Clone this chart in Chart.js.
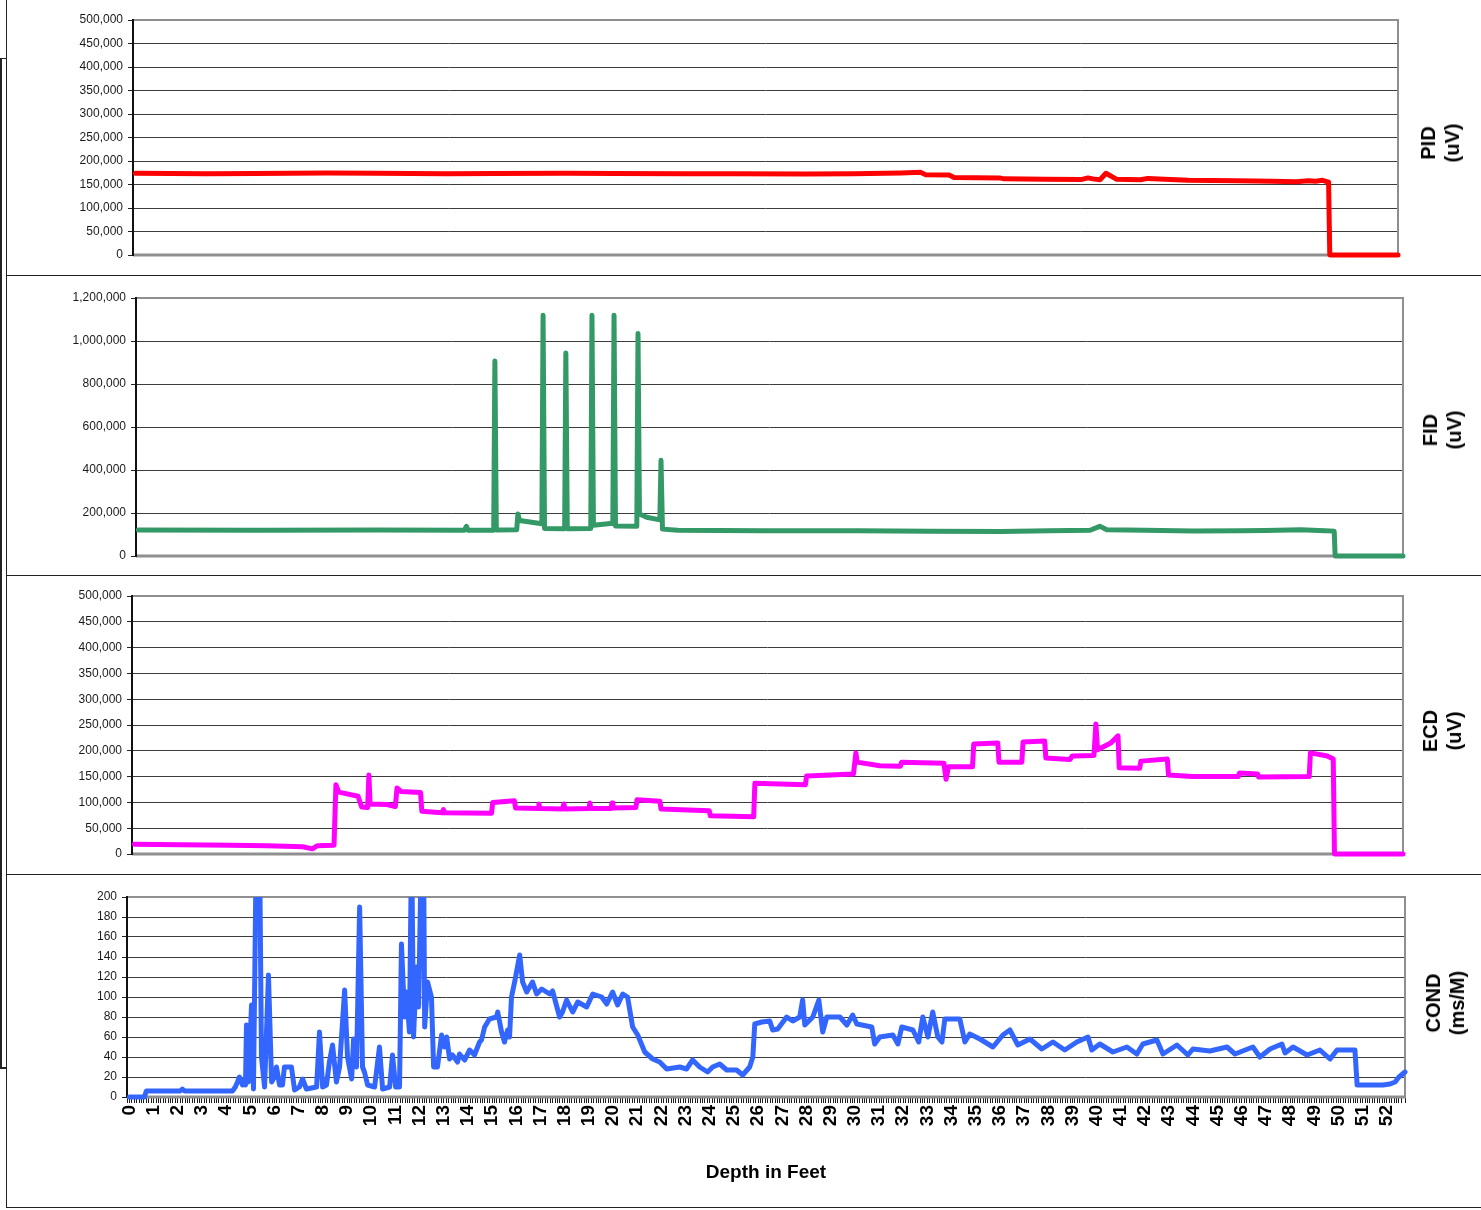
<!DOCTYPE html>
<html>
<head>
<meta charset="utf-8">
<script src="https://cdn.jsdelivr.net/npm/chart.js@4/dist/chart.umd.min.js"></script>
<style>
  body { margin: 0; background: #fff; }
  #page { position: relative; width: 1481px; height: 1210px; overflow: hidden; }
  .panel { position: absolute; left: 0; width: 1481px; }
  .rule { position: absolute; background: #222; }
  .side {
    position: absolute; transform: translate(-50%, -50%) rotate(-90deg);
    font: bold 20px Arial, "Liberation Sans", sans-serif; line-height: 24px;
    text-align: center; white-space: nowrap; color: #000;
  }
</style>
</head>
<body>
<div id="page">
  <div class="panel" style="top:0;height:275px"><canvas id="pid"></canvas></div>
  <div class="panel" style="top:275px;height:301px"><canvas id="fid"></canvas></div>
  <div class="panel" style="top:576px;height:298px"><canvas id="ecd"></canvas></div>
  <div class="panel" style="top:874px;height:333px"><canvas id="cond"></canvas></div>

  <div class="rule" style="left:6px;top:0;width:1px;height:1208px"></div>
  <div class="rule" style="left:6px;top:275px;width:1475px;height:1px"></div>
  <div class="rule" style="left:6px;top:575px;width:1475px;height:1px"></div>
  <div class="rule" style="left:6px;top:874px;width:1475px;height:1px"></div>
  <div class="rule" style="left:6px;top:1207px;width:1475px;height:1px"></div>
  <div class="rule" style="left:0;top:58px;width:2px;height:1011px"></div>
  <div class="rule" style="left:0;top:58px;width:6px;height:1px"></div>
  <div class="rule" style="left:0;top:1067px;width:6px;height:2px"></div>

  <div class="side" style="left:1440px;top:143px">PID<br>(uV)</div>
  <div class="side" style="left:1442px;top:430px">FID<br>(uV)</div>
  <div class="side" style="left:1442px;top:731px">ECD<br>(uV)</div>
  <div class="side" style="left:1445px;top:1003px">COND<br>(ms/M)</div>
</div>
<script>
// depth in feet
const depthMin = -0.1;
const depthMax = 52.75;

const pidDepth = [0, 3, 5, 8, 10, 13, 15, 18, 20, 23, 25, 28, 30, 32, 32.8, 33.0, 34.0, 34.2, 36.1, 36.3, 38, 39.5, 39.8, 40.0, 40.3, 40.55, 41.0, 42, 42.3, 43, 44, 46, 47.5, 48.5, 49, 49.3, 49.6, 49.85, 49.9, 52.75];
const pidValue = [174000, 173000, 173500, 174500, 174000, 173000, 173500, 174000, 173500, 173000, 173000, 172500, 173000, 174500, 176000, 171000, 170000, 165000, 164000, 162000, 161000, 160500, 164000, 162000, 160000, 174000, 161000, 160000, 163000, 161000, 159000, 158000, 157000, 156000, 158000, 157000, 159000, 155000, 0, 0];

const fidDepth = [0, 5, 10, 13.6, 13.68, 13.75, 14.82, 14.87, 14.93, 15.78, 15.83, 15.9, 16.83, 16.88, 16.94, 17.78, 17.83, 17.89, 18.87, 18.92, 18.98, 19.79, 19.84, 19.9, 20.79, 20.84, 20.9, 21.2, 21.75, 21.8, 21.86, 22.5, 26, 30, 33, 36, 38, 39.7, 40.1, 40.4, 42, 44, 46, 47, 48.5, 49.5, 49.88, 49.92, 52.75];
const fidValue = [121000, 120000, 121000, 120000, 138000, 120000, 120000, 907000, 121000, 122000, 195000, 165000, 150000, 1120000, 128000, 127000, 944000, 127000, 128000, 1120000, 143000, 152000, 1120000, 140000, 138000, 1035000, 195000, 180000, 168000, 445000, 125000, 120000, 118000, 117000, 115000, 114000, 117000, 120000, 138000, 122000, 120000, 116000, 117000, 119000, 122000, 118000, 115000, 0, 0];

const ecdDepth = [0, 2, 4, 5.5, 7, 7.4, 7.6, 8.3, 8.38, 8.5, 9.3, 9.45, 9.7, 9.75, 9.8, 10.5, 10.85, 10.92, 11.1, 11.9, 11.95, 12.8, 12.85, 12.9, 14.85, 14.9, 15.8, 15.85, 16.8, 16.82, 16.86, 17.8, 17.86, 17.9, 18.9, 18.94, 18.98, 19.82, 19.86, 19.9, 20.85, 20.9, 21.85, 21.9, 23.9, 23.95, 25.75, 25.8, 27.9, 27.95, 29.9, 30.0, 30.05, 31.0, 31.85, 31.9, 33.66, 33.75, 33.85, 34.85, 34.9, 35.9, 35.95, 36.9, 36.95, 37.85, 37.9, 38.9, 39.0, 39.9, 39.98, 40.05, 40.6, 40.9, 40.95, 41.8, 41.85, 42.95, 43.0, 44, 45.9, 45.95, 46.7, 46.75, 48.85, 48.9, 49.6, 49.85, 49.9, 52.75];
const ecdValue = [19000, 18000, 17000, 16000, 14000, 10000, 16000, 17000, 134000, 120000, 112000, 91000, 90000, 153000, 97000, 96000, 92000, 128000, 121000, 119000, 83000, 80000, 86000, 80000, 79000, 100000, 103000, 89000, 88000, 97000, 88000, 87000, 97000, 87000, 88000, 99000, 88000, 88000, 99000, 89000, 90000, 105000, 102000, 87000, 84000, 74000, 72000, 137000, 134000, 151000, 155000, 196000, 178000, 171000, 170000, 178000, 176000, 145000, 169000, 169000, 213000, 215000, 178000, 178000, 217000, 219000, 186000, 183000, 190000, 191000, 252000, 202000, 215000, 229000, 167000, 166000, 180000, 184000, 153000, 150000, 150000, 157000, 155000, 149000, 150000, 196000, 190000, 184000, 0, 0];

const condDepth = [0, 0.62, 0.70, 2.10, 2.19, 2.28, 4.26, 4.38, 4.47, 4.55, 4.68, 4.76, 4.80, 4.84, 4.92, 5.05, 5.13, 5.25, 5.38, 5.46, 5.59, 5.75, 5.88, 6.00, 6.08, 6.21, 6.33, 6.41, 6.70, 6.83, 7.03, 7.16, 7.32, 7.74, 7.86, 7.99, 8.15, 8.27, 8.40, 8.56, 8.69, 8.90, 9.02, 9.19, 9.27, 9.39, 9.52, 9.64, 9.72, 9.85, 10.14, 10.34, 10.47, 10.76, 10.88, 11.01, 11.17, 11.25, 11.38, 11.46, 11.58, 11.67, 11.75, 11.87, 11.96, 12.08, 12.16, 12.21, 12.33, 12.49, 12.58, 12.74, 12.91, 13.03, 13.12, 13.24, 13.36, 13.57, 13.65, 13.86, 14.07, 14.27, 14.48, 14.56, 14.69, 14.89, 15.18, 15.23, 15.39, 15.51, 15.64, 15.72, 15.80, 15.93, 16.14, 16.26, 16.43, 16.67, 16.84, 17.05, 17.38, 17.50, 17.79, 17.91, 18.08, 18.33, 18.54, 18.91, 19.16, 19.53, 19.74, 19.98, 20.19, 20.40, 20.60, 20.81, 21.02, 21.31, 21.64, 21.93, 22.22, 22.76, 23.04, 23.29, 23.58, 23.91, 24.12, 24.41, 24.70, 25.11, 25.36, 25.65, 25.78, 25.86, 26.15, 26.48, 26.60, 26.81, 27.18, 27.43, 27.72, 27.84, 27.93, 28.26, 28.51, 28.67, 28.84, 29.38, 29.67, 29.91, 30.08, 30.70, 30.82, 31.03, 31.57, 31.78, 31.94, 32.40, 32.64, 32.81, 33.02, 33.22, 33.43, 33.60, 33.72, 34.34, 34.55, 34.75, 35.17, 35.71, 36.12, 36.41, 36.74, 37.24, 37.73, 38.19, 38.68, 39.18, 39.64, 39.80, 40.13, 40.67, 41.25, 41.66, 41.91, 42.49, 42.74, 43.32, 43.77, 43.98, 44.68, 45.39, 45.72, 46.46, 46.75, 47.17, 47.66, 47.79, 48.12, 48.70, 49.23, 49.65, 49.94, 50.68, 50.77, 51.84, 52.13, 52.34, 52.50, 52.75];
const condValue = [0, 0, 6, 6, 8, 6, 6, 10, 15, 20, 12, 18, 12, 72, 15, 92, 8, 260, 260, 40, 10, 122, 15, 20, 30, 12, 12, 30, 30, 7, 10, 18, 8, 10, 65, 10, 12, 35, 52, 15, 30, 107, 40, 18, 58, 30, 190, 30, 25, 12, 10, 50, 8, 10, 42, 10, 10, 153, 80, 105, 65, 260, 60, 130, 90, 260, 260, 70, 115, 100, 30, 30, 62, 50, 60, 38, 42, 35, 43, 37, 47, 42, 55, 57, 70, 78, 80, 85, 65, 55, 67, 60, 100, 115, 142, 115, 105, 115, 103, 108, 103, 106, 80, 85, 97, 85, 95, 90, 103, 100, 93, 105, 92, 103, 100, 70, 62, 45, 38, 35, 28, 30, 28, 37, 30, 25, 30, 33, 27, 27, 22, 30, 40, 73, 75, 76, 67, 68, 80, 76, 80, 97, 72, 80, 97, 65, 80, 80, 72, 82, 73, 70, 53, 60, 62, 53, 70, 67, 55, 80, 60, 85, 60, 55, 78, 78, 55, 63, 58, 50, 62, 67, 52, 58, 48, 55, 47, 55, 60, 47, 53, 45, 50, 43, 53, 57, 43, 52, 42, 48, 46, 50, 43, 50, 40, 48, 53, 44, 50, 42, 47, 38, 47, 47, 12, 12, 13, 15, 20, 25];

const tickFont = { family: 'Arial, "Liberation Sans", sans-serif', size: 12 };

const plotFrame = {
  id: 'plotFrame',
  beforeDatasetsDraw(chart) {
    const { ctx, chartArea: a } = chart;
    ctx.save();
    ctx.strokeStyle = '#8f8f8f';
    ctx.lineWidth = 2;
    ctx.beginPath();
    ctx.moveTo(a.left, a.top);
    ctx.lineTo(a.right, a.top);
    ctx.lineTo(a.right, a.bottom);
    ctx.stroke();
    ctx.lineWidth = 3;
    ctx.beginPath();
    ctx.moveTo(a.left, a.bottom);
    ctx.lineTo(a.right + 1, a.bottom);
    ctx.stroke();
    ctx.strokeStyle = '#111';
    ctx.lineWidth = 2;
    ctx.beginPath();
    ctx.moveTo(a.left, a.top - 1);
    ctx.lineTo(a.left, a.bottom + 1);
    ctx.stroke();
    ctx.restore();
  }
};

function points(depth, value) {
  return depth.map((d, i) => ({ x: d, y: value[i] }));
}

function panel(id, depth, value, color, cfg) {
  const xScale = {
    type: 'linear', min: depthMin, max: depthMax, display: false
  };
  if (cfg.showDepth) {
    Object.assign(xScale, {
      display: true,
      afterFit: s => { s.height = cfg.xHeight; },
      border: { display: false },
      grid: { drawOnChartArea: false, drawTicks: true, tickLength: 6, color: '#1a1a1a', lineWidth: 1 },
      ticks: {
        stepSize: 0.1, autoSkip: false, minRotation: 90, maxRotation: 90, padding: 2,
        color: '#000',
        font: { family: 'Arial, "Liberation Sans", sans-serif', size: 19, weight: 'bold' },
        callback: v => Math.abs(v - Math.round(v)) < 1e-6 && v >= 0 ? String(Math.round(v)) : ''
      },
      title: {
        display: true, text: 'Depth in Feet', color: '#000',
        font: { family: 'Arial, "Liberation Sans", sans-serif', size: 19, weight: 'bold' },
        padding: { top: 0, bottom: 23 }
      }
    });
  }
  return new Chart(document.getElementById(id), {
    type: 'line',
    data: {
      datasets: [{
        data: points(depth, value),
        borderColor: color,
        borderWidth: 5,
        borderJoinStyle: 'round',
        borderCapStyle: 'round',
        pointRadius: 0,
        tension: 0,
        clip: { left: 3, right: 3, top: 0, bottom: 3 }
      }]
    },
    options: {
      responsive: true,
      maintainAspectRatio: false,
      animation: false,
      events: [],
      layout: { padding: { left: 0, right: cfg.padRight, top: cfg.padTop, bottom: cfg.padBottom } },
      plugins: { legend: { display: false }, tooltip: { enabled: false } },
      scales: {
        x: xScale,
        y: {
          min: 0, max: cfg.yMax,
          afterFit: s => { s.width = cfg.yWidth; },
          border: { display: false },
          grid: { color: '#3c3c3c', lineWidth: 1, tickLength: 5, tickColor: '#222' },
          ticks: {
            stepSize: cfg.yStep, padding: 5, color: '#1a1a1a', font: tickFont,
            callback: v => v.toLocaleString('en-US')
          }
        }
      }
    },
    plugins: [plotFrame]
  });
}

panel('pid', pidDepth, pidValue, '#ff0000', { yMax: 500000, yStep: 50000, yWidth: 133, padRight: 83, padTop: 20, padBottom: 20 });
panel('fid', fidDepth, fidValue, '#339966', { yMax: 1200000, yStep: 200000, yWidth: 136, padRight: 78, padTop: 23, padBottom: 20 });
panel('ecd', ecdDepth, ecdValue, '#ff00ff', { yMax: 500000, yStep: 50000, yWidth: 132, padRight: 78, padTop: 20, padBottom: 20 });
panel('cond', condDepth, condValue, '#3366ff', { yMax: 200, yStep: 20, yWidth: 127, padRight: 76, padTop: 23, padBottom: 0, showDepth: true, xHeight: 110 });
</script>
</body>
</html>
